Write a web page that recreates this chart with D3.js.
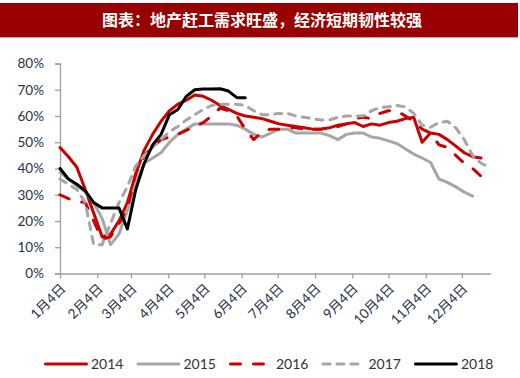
<!DOCTYPE html>
<html><head><meta charset="utf-8">
<script src="https://cdn.jsdelivr.net/npm/d3@7"></script>
<style>
html,body{margin:0;padding:0;background:#fff;}
svg{display:block;}
text{font-family:Lato,"Noto Sans CJK SC",sans-serif;}
</style></head>
<body>
<svg id="chart" width="520" height="378"></svg>
<script>
// ---- data ----
const title = "图表：地产赶工需求旺盛，经济短期韧性较强";
const weeks = ["01-04","01-11","01-18","01-25","02-01","02-08","02-15","02-22","03-01","03-08","03-15","03-22","03-29","04-05","04-12","04-19","04-26","05-03","05-10","05-17","05-24","05-31","06-07","06-14","06-21","06-28","07-05","07-12","07-19","07-26","08-02","08-09","08-16","08-23","08-30","09-06","09-13","09-20","09-27","10-04","10-11","10-18","10-25","11-01","11-08","11-15","11-22","11-29","12-06","12-13","12-20","12-27"];
const tickLabels = ["1月4日","2月4日","3月4日","4月4日","5月4日","6月4日","7月4日","8月4日","9月4日","10月4日","11月4日","12月4日"];
const tickDates = ["01-04","02-04","03-04","04-04","05-04","06-04","07-04","08-04","09-04","10-04","11-04","12-04"];
const yTicks = [0,10,20,30,40,50,60,70,80];
const seriesNames = ["2014","2015","2016","2017","2018"];
const v2014 = [48,44.5,40.5,32,23,14,15,20,27,38,47,53,58,62,64.5,66,68,67.5,66,64,62.5,61,60,59.5,59,58,57,56.5,56,55.5,55,55,55.5,56.5,57,57.5,56,57,56.5,57.5,58,59,59.5,50,53.5,53,51,48.5,46,44.5,44,null];
const v2015 = [38.5,36,33.5,31,27,21,11,15,24,34,42,44,46,50,53,55,57,57,57,57,57,56.5,55,53,52,53.5,55,55,53.5,53.5,53.5,53.5,52.5,51,53,53.5,53.5,52,51.5,50.5,49.5,47.5,45.5,44,42.3,36,34.7,33,31,29.5,null,null];
const v2016 = [30,28.5,27.5,27,20,13,14,19,25,38,45,48,51,52,53,54.5,56,57.5,60,63,62,60,55,51,54,55,55,55.5,55.5,55,55,55,55.5,56,57,59,59.5,59,61,62,62,60,58,55,53.5,49,48,45,42,40,37,null];
const v2017 = [36,34,32,27,11,11,19,27,33,41,45,48,51,54,56,58.5,60.5,62.5,64,64.5,64.5,64.5,64,62,60.5,60.5,61,61,60,59.5,59,58.5,58.5,59.5,60,60,60,62,63.3,63.5,64,63.5,61,56.5,55.7,57.5,58,55.5,51,45,42,40.5];
const v2018 = [40,36,34,31.5,27,25,25,25,17,32,42,49,53,60.5,62.5,67.5,70,70.3,70.3,70.4,69.5,67,67];
const seriesColors = ["#cc0000","#a6a6a6","#cc0000","#a6a6a6","#000000"];
const seriesDash = [null,null,"10,13","7,7",null];

// ---- layout ----
const svg = d3.select("#chart");
const plot = {left:60, right:490.7, top:63.5, bottom:273.5};
const parse = s => d3.timeParse("%Y-%m-%d")("2018-" + s);

// title banner
svg.append("rect").attr("x",0).attr("y",3).attr("width",518).attr("height",34).attr("fill","#990000");
svg.append("rect").attr("x",0).attr("y",37).attr("width",518).attr("height",1).attr("fill","#d9a0a0");
svg.append("text").attr("x",262).attr("y",26).attr("text-anchor","middle")
  .attr("fill","#fff").attr("font-size",16).attr("font-weight","bold")
  .style("font-family","'Noto Sans CJK SC',sans-serif").text(title);

const x = d3.scaleTime().domain([parse("01-04"), parse("12-28")]).range([plot.left, plot.right]);
const y = d3.scaleLinear().domain([0,80]).range([plot.bottom, plot.top]);

const axisColor = "#a0a0a0";
const labelColor = "#26324a";

// y axis
const yAxis = svg.append("g").attr("transform",`translate(${plot.left},0)`)
  .call(d3.axisLeft(y).tickValues(yTicks).tickFormat(d => d + "%").tickSize(5).tickPadding(11));
yAxis.select(".domain").attr("stroke",axisColor).attr("stroke-width",1.3);
yAxis.selectAll(".tick line").attr("stroke",axisColor).attr("stroke-width",1.3);
yAxis.selectAll(".tick text").attr("fill",labelColor).attr("font-size",13.5).style("font-family","Lato,sans-serif");

// x axis
const xAxis = svg.append("g").attr("transform",`translate(0,${plot.bottom})`)
  .call(d3.axisBottom(x).tickValues(tickDates.map(parse)).tickFormat((d,i) => tickLabels[i]).tickSize(5).tickSizeOuter(0));
xAxis.select(".domain").attr("stroke",axisColor).attr("stroke-width",1.3);
xAxis.selectAll(".tick line").attr("stroke",axisColor).attr("stroke-width",1.3);
xAxis.selectAll(".tick text").attr("fill",labelColor).attr("font-size",13.5)
  .attr("text-anchor","end").attr("dy",0).attr("y",0)
  .attr("transform","translate(6,16) rotate(-45)");

// lines
const allSeries = [v2014,v2015,v2016,v2017,v2018];
const line = d3.line().defined(d => d.v != null).x(d => x(parse(d.w))).y(d => y(d.v));
allSeries.forEach((vals, k) => {
  const pts = vals.map((v,i) => ({w: weeks[i], v: v}));
  const p = svg.append("path").datum(pts).attr("d", line)
    .attr("fill","none").attr("stroke",seriesColors[k]).attr("stroke-width",3)
    .attr("stroke-linejoin","round").attr("stroke-linecap","round");
  if (seriesDash[k]) p.attr("stroke-dasharray", seriesDash[k]);
});

// legend
const lg = svg.append("g");
let lx = 44;
const ly = 364;
seriesNames.forEach((name,k) => {
  const l = lg.append("line").attr("x1",lx+1.5).attr("x2",lx+42.5).attr("y1",ly).attr("y2",ly)
    .attr("stroke",seriesColors[k]).attr("stroke-width",3).attr("stroke-linecap","round");
  if (seriesDash[k]) l.attr("stroke-dasharray", seriesDash[k]);
  const t = lg.append("text").attr("x",lx+47).attr("y",ly+5).attr("font-size",14).attr("fill","#333").text(name);
  lx += 47 + t.node().getComputedTextLength() + 13;
});
</script>
</body></html>
